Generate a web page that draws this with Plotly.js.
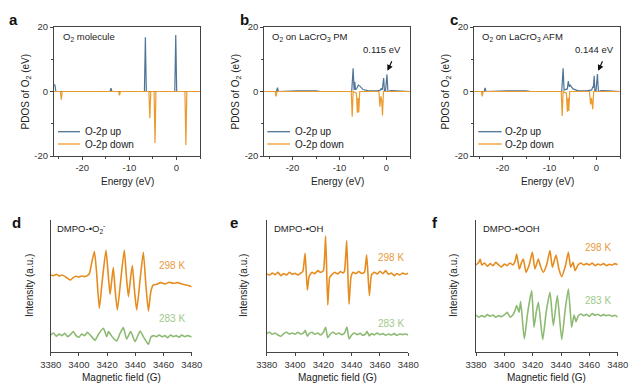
<!DOCTYPE html>
<html><head><meta charset="utf-8">
<script src="https://cdn.plot.ly/plotly-3.0.1.min.js"></script>
<style>html,body{margin:0;padding:0;background:#fff}#chart{width:638px;height:392px}</style>
</head><body><div id="chart"></div>
<script>
// ---------- PDOS data (energy in eV, PDOS of O2) ----------
const aUpE = [-26, -25.8, -25.6, -14.1, -13.9, -13.7, -6.8, -6.6, -6.4, -0.35, -0.15, 0.05, 5];
const aUpV = [2.2, 2.0, 0, 0, 1.0, 0, 0, 16.8, 0, 0, 17.5, 0, 0];
const aDnE = [-26, -24.65, -24.45, -24.25, -12.3, -12.1, -11.9, -5.85, -5.65, -5.45, -4.75, -4.55, -4.35, 1.8, 2.0, 2.2, 5];
const aDnV = [0, 0, -2.5, 0, 0, -1.2, 0, 0, -8.3, 0, 0, -16, 0, 0, -16.6, 0, 0];

const bUpE = [-26, -23.4, -23.2, -23.0, -19, -17, -15, -14, -7.4, -7.1, -6.9, -6.75, -6.6, -6.3, -6.0, -5.6, -5.0, -4.0, -2.0, -1.3, -1.1, -0.9, -0.75, -0.6, -0.45, -0.2, 0.1, 0.3, 1, 2.5, 5];
const bUpV = [0, 0, 1.2, 0, 0.2, 0.3, 0.2, 0, 0, 7.2, 0.5, 3.0, 0.5, 1.0, 2.0, 1.6, 0.6, 0.3, 0.2, 0.4, 1.0, 0.5, 2.0, 4.2, 0.3, 0.3, 5.3, 0, 0.3, 0.2, 0];
const bDnE = [-26, -23.7, -23.5, -23.3, -7.5, -7.3, -7.1, -6.4, -6.2, -6.05, -5.9, -5.7, -1.6, -1.4, -1.2, -1.0, -0.85, -0.65, 5];
const bDnV = [0, 0, -1.5, 0, 0, -7.8, 0, -0.5, -6.6, -2, -6.5, 0, 0, -4.7, -1.5, -3, -7.4, 0, 0];

const cUpE = [-26, -23.9, -23.7, -23.5, -19, -17, -15, -14, -7.4, -7.1, -6.9, -6.2, -6.0, -5.8, -5.6, -5.0, -4.0, -2.0, -1.0, -0.8, -0.65, -0.5, -0.35, -0.1, 0.2, 0.4, 1, 2.5, 5];
const cUpV = [0, 0, 1.1, 0, 0.2, 0.3, 0.2, 0, 0, 7.2, 0.5, 0.8, 3.2, 1.5, 2.0, 0.8, 0.3, 0.2, 0.5, 1.5, 1.2, 4.9, 0.3, 0.3, 5.4, 0, 0.3, 0.2, 0];
const cDnE = [-26, -24.5, -24.3, -24.1, -7.5, -7.3, -7.1, -6.4, -6.2, -6.05, -5.9, -5.7, -1.5, -1.25, -1.05, -0.95, -0.8, -0.6, 5];
const cDnV = [0, 0, -1.5, 0, 0, -7.6, 0, -0.5, -6.3, -2, -6.0, 0, 0, -4.0, -2, -3, -5.5, 0, 0];

// ---------- ESR data (magnetic field in G, intensity a.u.) ----------
const dHotG = [3380,3382,3384,3386,3388,3390,3392,3394,3396,3398,3400,3402,3404,3406,3407.5,3409,3411,3412.5,3414.5,3416.5,3419.2,3420.8,3422.1,3423.2,3424.4,3425.8,3427.3,3429.8,3432.2,3433.6,3435.1,3436.5,3437.9,3439.5,3441,3443.5,3445.7,3447.5,3449.3,3451,3452.8,3455,3458,3461,3464,3467,3470,3473,3476,3478,3480];
const dHotI = [232,230,234,229,232,228,222,217,224,228,226,229,227,230,237,267,302,242,132,212,307,232,174,212,254,182,127,222,307,232,167,217,260,182,127,222,300,202,124,182,202,204,209,205,210,207,209,205,202,200,197];
const dColdG = [3380,3382,3384,3386,3388,3390,3392,3394,3396,3398,3400,3402,3404,3406,3408,3410,3411.5,3414,3417.4,3419.7,3421,3423,3425,3426.8,3429,3431.5,3433.9,3436.7,3439.8,3442,3443.4,3446,3449.3,3451,3453,3455,3457,3459,3461,3463,3465,3467,3469,3471,3473,3475,3477,3480];
const dColdI = [52,58,48,55,50,57,47,53,62,50,45,55,50,60,52,42,36,55,72,47,62,50,40,34,55,74,40,62,32,52,64,45,24,45,50,47,52,46,50,44,52,47,50,45,52,47,50,46];

const eHotG = [3380,3382,3384,3386,3388,3390,3392,3394,3396,3398,3400,3402,3404,3405.5,3407.1,3408.7,3410,3412,3414,3416,3418,3420,3421.6,3423.1,3424.5,3426,3428,3430,3432,3434,3435,3436.5,3438.1,3439.5,3441,3443,3445,3447,3449,3450.6,3452.5,3454,3456,3458,3460,3462,3464,3466,3468,3470,3472,3474,3476,3478,3480];
const eHotI = [235,232,238,233,240,230,236,232,240,234,237,232,238,242,297,187,228,240,236,245,240,245,349,142,225,233,240,235,242,238,245,335,144,225,240,236,242,237,240,292,170,232,240,235,243,236,245,234,238,230,236,232,238,234,237];
const eColdG = [3380,3382,3384,3386,3388,3390,3392,3394,3396,3398,3400,3402,3404,3406,3407.2,3408.7,3410,3412,3414,3416,3418,3420,3421.6,3423.1,3425,3427,3429,3431,3433,3435,3436.6,3438.2,3440,3442,3444,3446,3448,3450,3450.8,3452.5,3454,3456,3458,3460,3462,3464,3466,3468,3470,3472,3474,3476,3478,3480];
const eColdI = [57,60,54,58,52,48,56,60,55,58,54,60,55,58,66,48,56,60,54,58,52,60,75,44,55,60,54,58,53,58,76,40,52,58,53,57,51,56,63,49,56,52,58,53,56,51,55,52,56,51,55,53,55,52];

const fHotG = [3380,3382,3383,3384,3386,3388,3390,3392,3394,3396,3398,3400,3402,3404,3406,3407.5,3408.7,3410.6,3412,3413.4,3415.3,3417.5,3419.8,3421.6,3424,3425.5,3427.5,3430,3432.2,3433.9,3436.5,3438.5,3440.5,3443,3445.2,3446.8,3448.5,3449.9,3452,3454,3456,3458,3460,3462,3464,3466,3468,3470,3472,3474,3476,3478,3480];
const fHotI = [262,270,280,262,268,258,266,260,270,262,256,265,260,268,262,272,295,250,268,280,240,262,300,250,280,258,240,265,305,255,292,250,227,258,300,255,270,245,262,268,262,266,262,268,260,265,262,266,260,264,262,266,263];
const fColdG = [3380,3382,3384,3386,3388,3390,3392,3394,3396,3398,3400,3402,3404,3406,3407.5,3408.7,3410.4,3411.5,3414.1,3416.5,3419.3,3420.9,3422.5,3424,3427.1,3429.5,3432.2,3434.6,3437.4,3440.5,3443,3445.2,3447.5,3449.2,3450.6,3452,3454,3456,3458,3460,3462,3464,3466,3468,3470,3472,3474,3476,3478,3480];
const fColdI = [112,105,110,106,113,108,112,105,110,107,112,120,106,112,125,140,120,152,40,120,185,75,120,150,38,120,180,80,170,38,130,190,75,112,92,108,115,110,114,108,116,111,114,109,113,110,112,108,111,106];

// ---------- tick labels ----------
const eTickVals = [-20, -10, 0];
const eTickText = ['-20', '-10', '0'];
const pTickVals = [-20, 0, 20];
const pTickText = ['-20', '0', '20'];
const bTickVals = [3380, 3400, 3420, 3440, 3460, 3480];
const bTickText = ['3380', '3400', '3420', '3440', '3460', '3480'];

// ---------- style ----------
const W = 638, H = 392;
const FONT = 'Liberation Sans, Arial, sans-serif';
const UP = '#4e7496', DN = '#ec9a2c';
const HOT = '#e68c1f', COLD = '#8dba72';
const HOT_T = '#ea9a3e', COLD_T = '#9ec98a';
const AX = '#444';
const px = v => v / W, py = v => 1 - v / H;

const traces = [];
function pdos(ue, uv, de, dv, n) {
  traces.push({x: ue, y: uv, xaxis: 'x' + n, yaxis: 'y' + n, mode: 'lines', line: {color: UP, width: 1.2}, showlegend: false, hoverinfo: 'skip'});
  traces.push({x: de, y: dv, xaxis: 'x' + n, yaxis: 'y' + n, mode: 'lines', line: {color: DN, width: 1.2}, showlegend: false, hoverinfo: 'skip'});
}
function esr(hg, hi, cg, ci, n) {
  traces.push({x: hg, y: hi, xaxis: 'x' + n, yaxis: 'y' + n, mode: 'lines', line: {color: HOT, width: 1.6, shape: 'spline', smoothing: 0.5}, showlegend: false, hoverinfo: 'skip'});
  traces.push({x: cg, y: ci, xaxis: 'x' + n, yaxis: 'y' + n, mode: 'lines', line: {color: COLD, width: 1.6, shape: 'spline', smoothing: 0.5}, showlegend: false, hoverinfo: 'skip'});
}
pdos(aUpE, aUpV, aDnE, aDnV, 1);
pdos(bUpE, bUpV, bDnE, bDnV, 2);
pdos(cUpE, cUpV, cDnE, cDnV, 3);
esr(dHotG, dHotI, dColdG, dColdI, 4);
esr(eHotG, eHotI, eColdG, eColdI, 5);
esr(fHotG, fHotI, fColdG, fColdI, 6);

const tickFont = {family: FONT, size: 9.5, color: '#333'};
const layout = {width: W, height: H, margin: {l: 0, r: 0, t: 0, b: 0},
  paper_bgcolor: '#fff', plot_bgcolor: 'rgba(0,0,0,0)', font: {family: FONT, color: '#222'},
  showlegend: false, annotations: [], shapes: []};

const topX = [[54, 200], [264.3, 410], [474.3, 620]];
const botX = [[50.7, 191.7], [266.7, 408.3], [476, 617.7]];
topX.forEach((d, i) => {
  const n = i + 1, sx = n === 1 ? '' : n;
  layout['xaxis' + sx] = {domain: [px(d[0]), px(d[1])], anchor: 'y' + n, range: [-26, 5],
    showline: true, mirror: true, linecolor: AX, linewidth: 1, ticks: 'outside', ticklen: 3, tickcolor: AX,
    tickvals: eTickVals, ticktext: eTickText, tickfont: tickFont, showgrid: false, zeroline: false,
    minor: {tickvals: [-25, -15, -5, 5], ticks: 'outside', ticklen: 2, tickcolor: AX, showgrid: false}};
  layout['yaxis' + n] = {domain: [py(156), py(27)], anchor: 'x' + n, range: [-20, 20],
    showline: true, mirror: true, linecolor: AX, linewidth: 1, ticks: 'outside', ticklen: 3, tickcolor: AX,
    tickvals: pTickVals, ticktext: pTickText, tickfont: tickFont, showgrid: false, zeroline: false,
    minor: {tickvals: [-10, 10], ticks: 'outside', ticklen: 2, tickcolor: AX, showgrid: false}};
});
botX.forEach((d, i) => {
  const n = i + 4;
  layout['xaxis' + n] = {domain: [px(d[0]), px(d[1])], anchor: 'y' + n, range: [3380, 3480],
    showline: true, linecolor: AX, linewidth: 1, ticks: 'outside', ticklen: 3, tickcolor: AX,
    tickvals: bTickVals, ticktext: bTickText, tickfont: tickFont, showgrid: false, zeroline: false};
  layout['yaxis' + n] = {domain: [py(352.3), py(220)], anchor: 'x' + n, range: [0, 397],
    showline: true, linecolor: AX, linewidth: 1, ticks: '', showticklabels: false, showgrid: false, zeroline: false};
});

const A = layout.annotations, S = layout.shapes;
function txt(x, y, t, o) {
  A.push(Object.assign({xref: 'paper', yref: 'paper', x: px(x), y: py(y), text: t, showarrow: false,
    xanchor: 'center', yanchor: 'middle', font: {family: FONT, size: 10, color: '#222'}}, o || {}));
}
// panel letters
[['a', 13.2, 20], ['b', 244.5, 20], ['c', 454.3, 20], ['d', 16.5, 222], ['e', 233.5, 222], ['f', 434.7, 222]]
  .forEach(l => txt(l[1], l[2], '<b>' + l[0] + '</b>', {font: {family: FONT, size: 15, color: '#111'}}));
// axis titles
[25, 235, 445].forEach(x => txt(x, 91.5, 'PDOS of O<sub>2</sub> (eV)', {textangle: -90}));
[127, 337, 547].forEach(x => txt(x, 181.7, 'Energy (eV)'));
[29, 243, 453].forEach(x => txt(x, 286, 'Intensity (a.u.)', {textangle: -90}));
[121.2, 337.5, 546.9].forEach(x => txt(x, 377.7, 'Magnetic field (G)'));
// inner labels
const inF = {family: FONT, size: 9.5, color: '#222'};
txt(61, 36.7, 'O<sub>2</sub> molecule', {xanchor: 'left', font: inF});
txt(270, 36.7, 'O<sub>2</sub> on LaCrO<sub>3</sub> PM', {xanchor: 'left', font: inF});
txt(480, 36.7, 'O<sub>2</sub> on LaCrO<sub>3</sub> AFM', {xanchor: 'left', font: inF});
txt(55, 228, 'DMPO-•O<sub>2</sub><sup>-</sup>', {xanchor: 'left', font: inF});
txt(271.7, 228, 'DMPO-•OH', {xanchor: 'left', font: inF});
txt(481, 228, 'DMPO-•OOH', {xanchor: 'left', font: inF});
txt(381.8, 49, '0.115 eV', {font: inF});
txt(594.5, 49, '0.144 eV', {font: inF});
// temperature labels
const hotF = {family: FONT, size: 10, color: HOT_T}, coldF = {family: FONT, size: 10, color: COLD_T};
txt(171.7, 265, '298 K', {font: hotF}); txt(171.7, 318, '283 K', {font: coldF});
txt(390.8, 257.7, '298 K', {font: hotF}); txt(390.8, 323.3, '283 K', {font: coldF});
txt(598, 247.7, '298 K', {font: hotF}); txt(598, 300, '283 K', {font: coldF});
// arrows to the gap peaks
A.push({xref: 'x2', yref: 'y2', x: 0.2, y: 6.4, ax: 5, ay: -11, text: '', showarrow: true, arrowhead: 2, arrowsize: 1, arrowwidth: 1.2, arrowcolor: '#111', standoff: 0});
A.push({xref: 'x3', yref: 'y3', x: 0.35, y: 6.4, ax: 5, ay: -11, text: '', showarrow: true, arrowhead: 2, arrowsize: 1, arrowwidth: 1.2, arrowcolor: '#111', standoff: 0});
// legends
[[58, 80, 82.7], [267.3, 290, 292.7], [478.3, 501.7, 503.3]].forEach(l => {
  S.push({type: 'line', xref: 'paper', yref: 'paper', x0: px(l[0]), x1: px(l[1]), y0: py(131.7), y1: py(131.7), line: {color: UP, width: 1.3}});
  S.push({type: 'line', xref: 'paper', yref: 'paper', x0: px(l[0]), x1: px(l[1]), y0: py(144), y1: py(144), line: {color: DN, width: 1.3}});
  txt(l[2], 131.7, 'O-2p up', {xanchor: 'left'});
  txt(l[2], 144, 'O-2p down', {xanchor: 'left'});
});

Plotly.newPlot('chart', traces, layout, {staticPlot: true, displayModeBar: false});
</script></body></html>
